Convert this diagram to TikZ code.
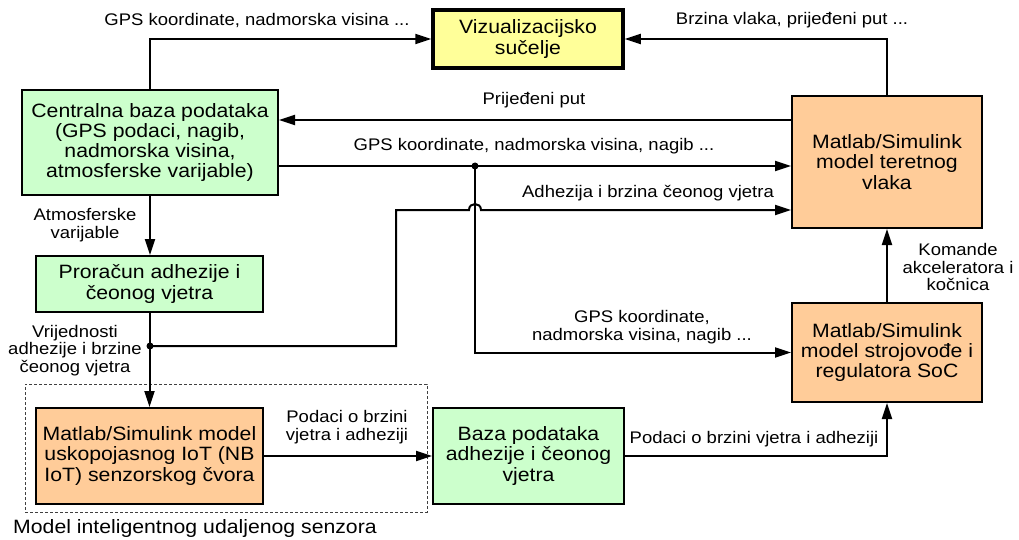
\documentclass[tikz,border=0pt]{standalone}
\usepackage{fontspec}
\setmainfont{Liberation Sans}[FakeStretch=1.1]
\usetikzlibrary{arrows.meta}
\definecolor{bgreen}{HTML}{CCFFCC}
\definecolor{borange}{HTML}{FFCC99}
\definecolor{byellow}{HTML}{FFFF99}
\newcommand\boxfont{\fontsize{19.3}{20.3}\selectfont}
\newcommand\labfont{\fontsize{16.8}{17.8}\selectfont}
\begin{document}
\begin{tikzpicture}[x=1pt,y=-1pt,
  box/.style={draw=black, line width=2pt, align=center, inner sep=0pt, font=\boxfont},
  lab/.style={inner sep=0pt, align=center, font=\labfont},
  arr/.style={line width=2pt, -{Triangle[length=16pt,width=10pt]}}]
\useasboundingbox (0,0) rectangle (1019,540);
% boxes
\node[box, fill=byellow, line width=3.5pt, minimum width=190pt, minimum height=58pt] (viz) at (528,39) {Vizualizacijsko\\sučelje};
\node[box, fill=bgreen, minimum width=256pt, minimum height=105pt] (cb) at (150,142.5) {Centralna baza podataka\\(GPS podaci, nagib,\\nadmorska visina,\\atmosferske varijable)};
\node[box, fill=borange, minimum width=190pt, minimum height=132pt] (ter) at (887,162) {Matlab/Simulink\\model teretnog\\vlaka};
\node[box, fill=borange, minimum width=190pt, minimum height=99pt] (str) at (887,352.5) {Matlab/Simulink\\model strojovođe i\\regulatora SoC};
\node[box, fill=bgreen, minimum width=227pt, minimum height=56pt] (pro) at (149.5,284) {Proračun adhezije i\\čeonog vjetra};
\node[draw=black!75, line width=0.8pt, dash pattern=on 3pt off 2pt, minimum width=402pt, minimum height=128pt] (sens) at (226,448) {};
\node[box, fill=borange, minimum width=227pt, minimum height=96pt] (iot) at (149.5,456) {Matlab/Simulink model\\uskopojasnog IoT (NB\\IoT) senzorskog čvora};
\node[box, fill=bgreen, minimum width=191pt, minimum height=96pt] (baza) at (528.5,456) {Baza podataka\\adhezije i čeonog\\vjetra};
% helper coordinates
\coordinate (row1) at (0,120);
\coordinate (row2) at (0,166);
\coordinate (j1) at (475,166);
\coordinate (j2) at (150,346);
\coordinate (bend) at (396,210);
\coordinate (hopL) at (469,210);
\coordinate (hopR) at (481,210);
% connectors
\draw[arr] (cb.north) |- (viz.west);
\draw[arr] (ter.north) |- (viz.east);
\draw[arr] (ter.west |- row1) -- (cb.east |- row1);
\draw[arr] (cb.east |- row2) -- (ter.west |- row2);
\draw[arr] (j1) |- (str.west);
\draw[arr] (j2) -| (bend) -- (hopL) .. controls (469,202) and (481,202) .. (hopR) -- (ter.west |- bend);
\draw[arr] (str.north) -- (ter.south);
\draw[arr] (cb.south) -- (cb.south |- pro.north);
\draw[arr] (pro.south) -- (iot.north);
\draw[arr] (iot.east) -- (baza.west);
\draw[arr] (baza.east) -| (str.south);
\fill (j1) circle (3.5pt);
\fill (j2) circle (3.5pt);
% labels
\node[lab, anchor=base] (l1) at (257,26) {GPS koordinate, nadmorska visina ...};
\node[lab, anchor=base] (l2) at (792,25) {Brzina vlaka, prijeđeni put ...};
\node[lab, anchor=base] (l3) at (534,105) {Prijeđeni put};
\node[lab, anchor=base] (l4) at (534,151) {GPS koordinate, nadmorska visina, nagib ...};
\node[lab, anchor=base] (l5) at (648,197) {Adhezija i brzina čeonog vjetra};
\node[lab] (l6) at (85,225.5) {Atmosferske\\varijable};
\node[lab] (l7) at (75,350.5) {Vrijednosti\\adhezije i brzine\\čeonog vjetra};
\node[lab] (l8) at (958,267) {Komande\\akceleratora i\\kočnica};
\node[lab] (l9) at (642,327.5) {GPS koordinate,\\nadmorska visina, nagib ...};
\node[lab] (l10) at (347,427) {Podaci o brzini\\vjetra i adheziji};
\node[lab, anchor=base] (l11) at (754,443) {Podaci o brzini vjetra i adheziji};
\node[lab, anchor=base, font=\boxfont] (l12) at (195,533) {Model inteligentnog udaljenog senzora};
\end{tikzpicture}
\end{document}
